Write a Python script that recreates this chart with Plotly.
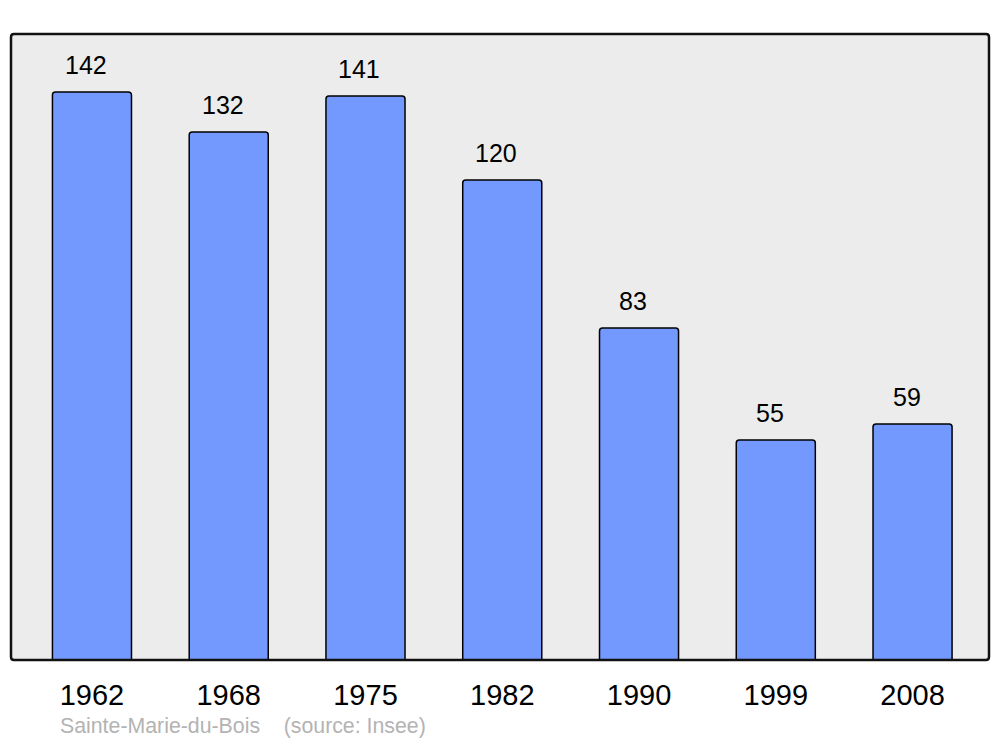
import plotly.graph_objects as go

years = ["1962", "1968", "1975", "1982", "1990", "1999", "2008"]
population = [142, 132, 141, 120, 83, 55, 59]
footer_text = "Sainte-Marie-du-Bois    (source: Insee)"

# page body has an 8px margin; size the figure so it fits the 1000x747 window
OFF = 8
W, H = 1000 - 2 * OFF, 747 - 2 * OFF
L, T = 11 - OFF, 34 - OFF
R = (W + OFF) - 989
B = (H + OFF) - 660
pw, ph = W - L - R, H - T - B

def paper_x(xpx):
    return (xpx - OFF - L) / pw

def paper_y(ypx):
    return (H - B - (ypx - OFF)) / ph

fig = go.Figure()
fig.add_trace(go.Bar(
    x=list(range(len(years))), y=population,
    width=0.578,
    marker=dict(color="#7399ff", line=dict(color="#000000", width=1.5)),
    hoverinfo="skip",
))

for i, v in enumerate(population):
    fig.add_annotation(x=i, y=v, text=str(v), showarrow=False,
                       yanchor="bottom", yshift=11, xshift=-6,
                       font=dict(size=25, color="#000000", family="Liberation Sans, Arial"))

fig.add_annotation(x=paper_x(59), y=paper_y(739), xref="paper", yref="paper",
                   xanchor="left", yanchor="bottom", showarrow=False,
                   text=footer_text, borderpad=0,
                   font=dict(size=21.3, color="#b3b3b3", family="Liberation Sans, Arial"))

# rounded frame around plot area
r = 3
def px(x):
    return x / pw
def py(y):
    return 1 - y / ph
path = (f"M {px(r)},{py(0)} L {px(pw - r)},{py(0)} Q {px(pw)},{py(0)} {px(pw)},{py(r)} "
        f"L {px(pw)},{py(ph - r)} Q {px(pw)},{py(ph)} {px(pw - r)},{py(ph)} "
        f"L {px(r)},{py(ph)} Q {px(0)},{py(ph)} {px(0)},{py(ph - r)} "
        f"L {px(0)},{py(r)} Q {px(0)},{py(0)} {px(r)},{py(0)} Z")
fig.add_shape(type="path", path=path, xref="paper", yref="paper",
              line=dict(color="#111111", width=2.5), layer="above")

fig.update_layout(
    width=W, height=H,
    margin=dict(l=L, r=R, t=T, b=B, pad=0),
    paper_bgcolor="#ffffff", plot_bgcolor="#ececec",
    showlegend=False, barcornerradius=3,
    xaxis=dict(range=[-0.592, 6.559], tickmode="array",
               tickvals=list(range(len(years))), ticktext=years,
               tickfont=dict(size=29, color="#000000", family="Liberation Sans, Arial"),
               showgrid=False, zeroline=False, showline=False, ticks="",
               ticklabelstandoff=15),
    yaxis=dict(range=[0, 156.5], visible=False, showgrid=False, zeroline=False),
)

fig.write_html("out.html")
